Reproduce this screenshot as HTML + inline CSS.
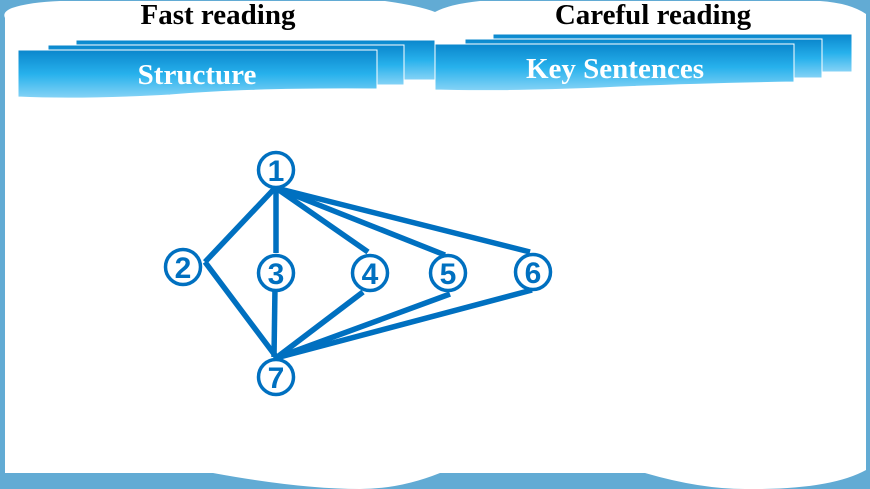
<!DOCTYPE html>
<html><head><style>
html,body{margin:0;padding:0;width:870px;height:489px;overflow:hidden;background:#62abd4}
svg{display:block}
</style></head><body>
<svg width="870" height="489" viewBox="0 0 870 489" xmlns="http://www.w3.org/2000/svg">
<defs>
<linearGradient id="g" x1="0" y1="0" x2="0" y2="1">
<stop offset="0" stop-color="#0a86cc"/>
<stop offset="0.5" stop-color="#27b1ec"/>
<stop offset="1" stop-color="#86d3f6"/>
</linearGradient>
</defs>
<path d="M5,18 Q2,12 12,8 Q30,2 60,1 L385,1 Q420,6 435,12 Q450,4 480,1 L820,1 Q850,3 866,14 L866,470 Q830,490 745,489 Q700,489 645,473 L440,473 Q400,489 360,489 Q300,489 213,473 L5,473 Z" fill="#fff"/>
<text x="218" y="24" font-family="Liberation Serif" font-weight="bold" font-size="29" text-anchor="middle">Fast reading</text>
<text x="653" y="24" font-family="Liberation Serif" font-weight="bold" font-size="29" text-anchor="middle">Careful reading</text>
<g stroke="#fff" stroke-width="1">
<rect x="76" y="40" width="359" height="40" fill="url(#g)"/>
<rect x="48" y="45" width="356" height="40" fill="url(#g)"/>
<path d="M18,50 L377,50 L377,89 Q250,88 170,95 Q80,100 18,97 Z" fill="url(#g)"/>
<rect x="493" y="34" width="359" height="38" fill="url(#g)"/>
<rect x="465" y="39" width="357" height="39" fill="url(#g)"/>
<path d="M435,44 L794,44 L794,82 Q680,84 600,88 Q500,92 435,90 Z" fill="url(#g)"/>
</g>
<text x="197" y="84" font-family="Liberation Serif" font-weight="bold" font-size="29" fill="#fff" text-anchor="middle">Structure</text>
<text x="615" y="78" font-family="Liberation Serif" font-weight="bold" font-size="29" fill="#fff" text-anchor="middle">Key Sentences</text>
<g stroke="#0070c0" stroke-width="5.5" stroke-linecap="butt" fill="none">
<line x1="275" y1="188" x2="205" y2="262"/>
<line x1="205" y1="262" x2="277" y2="358"/>
<line x1="276" y1="188" x2="276" y2="253"/>
<line x1="275" y1="287" x2="274" y2="357"/>
<line x1="276" y1="188" x2="368" y2="252"/>
<line x1="276" y1="188" x2="445" y2="255"/>
<line x1="276" y1="188" x2="530" y2="252"/>
<line x1="276" y1="358" x2="363" y2="292"/>
<line x1="276" y1="358" x2="450" y2="294"/>
<line x1="276" y1="358" x2="532" y2="290"/>
</g>
<g stroke="#0070c0" stroke-width="3.5" fill="#fff">
<circle cx="276" cy="170" r="17.5"/>
<circle cx="183" cy="267" r="17.5"/>
<circle cx="276" cy="273" r="17.5"/>
<circle cx="370" cy="273" r="17.5"/>
<circle cx="448" cy="273" r="17.5"/>
<circle cx="533" cy="272" r="17.5"/>
<circle cx="276" cy="377" r="17.5"/>
</g>
<g font-family="Liberation Sans" font-weight="bold" font-size="30" fill="#0070c0" text-anchor="middle">
<text x="276" y="181">1</text>
<text x="183" y="278">2</text>
<text x="276" y="284">3</text>
<text x="370" y="284">4</text>
<text x="448" y="284">5</text>
<text x="533" y="283">6</text>
<text x="276" y="388">7</text>
</g>
</svg>
</body></html>
